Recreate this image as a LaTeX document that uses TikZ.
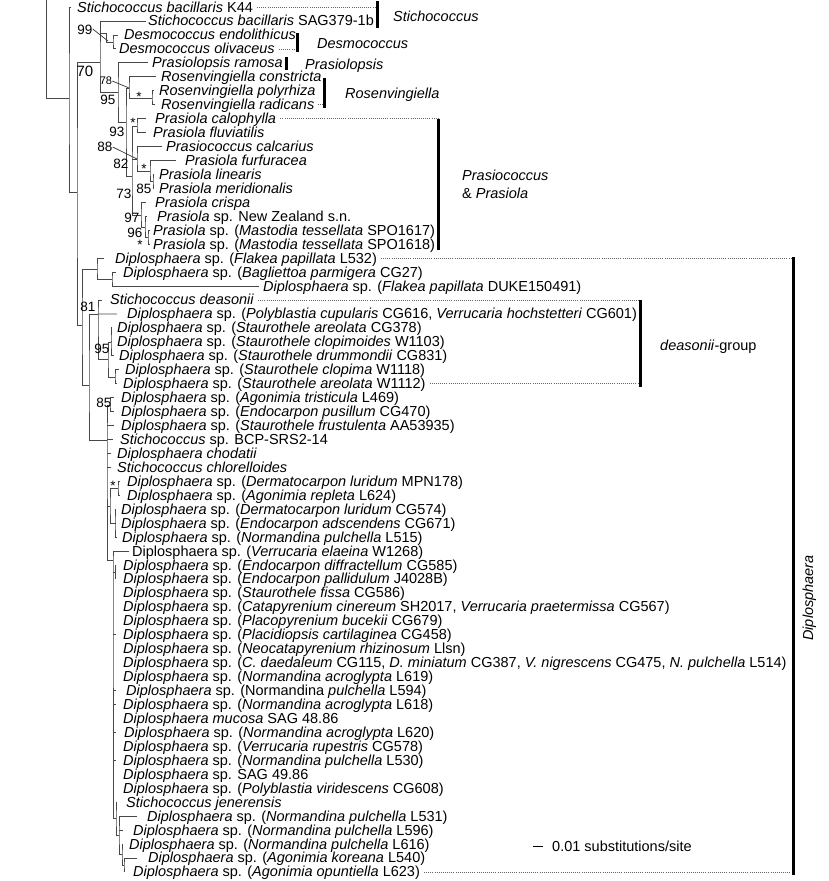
\documentclass[tikz,border=0pt]{standalone}
\usepackage{fontspec}
\setmainfont{Liberation Sans}
\newcommand{\dsp}{\textit{Diplosphaera} sp.}

\begin{document}
\begin{tikzpicture}[
  x=1pt,y=-1pt,
  taxon/.style={anchor=west,inner xsep=1pt,inner ysep=0pt,text height=10pt,text depth=0pt,font=\fontsize{14.5}{16}\selectfont},
  clade/.style={taxon,font=\fontsize{14.5}{16}\selectfont\itshape},
  support/.style={inner sep=0pt,font=\fontsize{13.5}{15}\selectfont},
  branch/.style={draw=black!72,line width=.8pt},
  leader/.style={draw=black!80,line width=.7pt},
  dotline/.style={draw=black!60,line width=.6pt,dash pattern=on .6pt off 1.5pt},
  cladebar/.style={draw=black,line width=3pt}
]
\useasboundingbox (0,0) rectangle (829,881);

% taxa, one row each, top to bottom: row/x/tip gap/text
\foreach \n/\x/\g/\t in {
  1/76/5/{\textit{Stichococcus bacillaris} K44},
  2/147/1/{\textit{Stichococcus bacillaris} SAG379-1b},
  3/123/5/{\textit{Desmococcus endolithicus}},
  4/118/2/{\textit{Desmococcus olivaceus}},
  5/151/3/{\textit{Prasiolopsis ramosa}},
  6/160/4/{\textit{Rosenvingiella constricta}},
  7/158/4/{\textit{Rosenvingiella polyrhiza}},
  8/160/5/{\textit{Rosenvingiella radicans}},
  9/154/8/{\textit{Prasiola calophylla}},
  10/152/6/{\textit{Prasiola fluviatilis}},
  11/165/3/{\textit{Prasiococcus calcarius}},
  12/184/8/{\textit{Prasiola furfuracea}},
  13/158/4/{\textit{Prasiola linearis}},
  14/158/4/{\textit{Prasiola meridionalis}},
  15/154/8/{\textit{Prasiola crispa}},
  16/156/9/{\textit{Prasiola} sp. New Zealand s.n.},
  17/152/2/{\textit{Prasiola} sp. (\textit{Mastodia tessellata} SPO1617)},
  18/152/2/{\textit{Prasiola} sp. (\textit{Mastodia tessellata} SPO1618)},
  19/114/10/{\dsp{} (\textit{Flakea papillata} L532)},
  20/122/6/{\dsp{} (\textit{Bagliettoa parmigera} CG27)},
  21/262/3/{\dsp{} (\textit{Flakea papillata} DUKE150491)},
  22/109/7/{\textit{Stichococcus deasonii}},
  23/126/9/{\dsp{} (\textit{Polyblastia cupularis} CG616, \textit{Verrucaria hochstetteri} CG601)},
  24/116/4/{\dsp{} (\textit{Staurothele areolata} CG378)},
  25/116/4/{\dsp{} (\textit{Staurothele clopimoides} W1103)},
  26/118/4/{\dsp{} (\textit{Staurothele drummondii} CG831)},
  27/124/5/{\dsp{} (\textit{Staurothele clopima} W1118)},
  28/122/5/{\dsp{} (\textit{Staurothele areolata} W1112)},
  29/120/6/{\dsp{} (\textit{Agonimia tristicula} L469)},
  30/120/6/{\dsp{} (\textit{Endocarpon pusillum} CG470)},
  31/120/6/{\dsp{} (\textit{Staurothele frustulenta} AA53935)},
  32/119/6/{\textit{Stichococcus} sp. BCP-SRS2-14},
  33/116/5/{\textit{Diplosphaera chodatii}},
  34/116/5/{\textit{Stichococcus chlorelloides}},
  35/126/6/{\dsp{} (\textit{Dermatocarpon luridum} MPN178)},
  36/126/6/{\dsp{} (\textit{Agonimia repleta} L624)},
  37/120/4/{\dsp{} (\textit{Dermatocarpon luridum} CG574)},
  38/120/4/{\dsp{} (\textit{Endocarpon adscendens} CG671)},
  39/121/4/{\dsp{} (\textit{Normandina pulchella} L515)},
  40/131/2/{Diplosphaera sp. (\textit{Verrucaria elaeina} W1268)},
  41/122/8/{\dsp{} (\textit{Endocarpon diffractellum} CG585)},
  42/122/8/{\dsp{} (\textit{Endocarpon pallidulum} J4028B)},
  43/122/8/{\dsp{} (\textit{Staurothele fissa} CG586)},
  44/122/8/{\dsp{} (\textit{Catapyrenium cinereum} SH2017, \textit{Verrucaria praetermissa} CG567)},
  45/122/8/{\dsp{} (\textit{Placopyrenium bucekii} CG679)},
  46/122/8/{\dsp{} (\textit{Placidiopsis cartilaginea} CG458)},
  47/122/8/{\dsp{} (\textit{Neocatapyrenium rhizinosum} Llsn)},
  48/122/8/{\dsp{} (\textit{C. daedaleum} CG115, \textit{D. miniatum} CG387, \textit{V. nigrescens} CG475, \textit{N. pulchella} L514)},
  49/122/8/{\dsp{} (\textit{Normandina acroglypta} L619)},
  50/125/8/{\dsp{} (Normandina \textit{pulchella} L594)},
  51/122/8/{\dsp{} (\textit{Normandina acroglypta} L618)},
  52/122/8/{\textit{Diplosphaera mucosa} SAG 48.86},
  53/123/8/{\dsp{} (\textit{Normandina acroglypta} L620)},
  54/122/8/{\dsp{} (\textit{Verrucaria rupestris} CG578)},
  55/122/8/{\dsp{} (\textit{Normandina pulchella} L530)},
  56/122/8/{\dsp{} SAG 49.86},
  57/122/8/{\dsp{} (\textit{Polyblastia viridescens} CG608)},
  58/125/8/{\textit{Stichococcus jenerensis}},
  59/146/9/{\dsp{} (\textit{Normandina pulchella} L531)},
  60/132/9/{\dsp{} (\textit{Normandina pulchella} L596)},
  61/128/5/{\dsp{} (\textit{Normandina pulchella} L616)},
  62/147/10/{\dsp{} (\textit{Agonimia koreana} L540)},
  63/132/8/{\dsp{} (\textit{Agonimia opuntiella} L623)}
}{
  \node[taxon] (t\n) at (\x,{7+13.95*(\n-1)}) {\t};
  \coordinate (e\n) at ([xshift=-\g pt]t\n.west);
}

% tree, upper part
\coordinate (cut) at (46,0);
\coordinate (n69) at (69,98);
\coordinate (n77) at (77,192);
\coordinate (n82) at (82,325);
\coordinate (n100) at (100,62);
\coordinate (n106) at (106,33);
\coordinate (n113d) at (113,42);
\coordinate (n118) at (118,92);
\coordinate (n125) at (126,122);
\coordinate (n128) at (129,88);
\coordinate (n152) at (152,98);
\coordinate (n133) at (132,176);
\coordinate (n137) at (137,126);
\coordinate (n137b) at (137,159);
\coordinate (n150) at (150,171);
\coordinate (n153) at (153,181);
\coordinate (n140) at (141,215);
\coordinate (n145) at (145,227);
\coordinate (n148) at (148,237);
\draw[branch] (cut) |- (n69);
\draw[branch] (e1) -| (n69) |- (n77);
\draw[branch] (n100) -| (n77) |- (n82);
\draw[branch] (e2) -| (n100) |- (n118);
\draw[branch] (n100 |- n106) -- (n106) |- (n113d);
\draw[branch] (e3) -| (n113d) |- (e4);
\draw[branch] (e5) -| (n118) |- (n125);
\draw[branch] (n128) -| (n125) |- (n133);
\draw[branch] (e6) -| (n128) |- (n152);
\draw[branch] (e7) -| (n152) |- (e8);
\draw[branch] (n137) -| (n133) |- (n140);
\draw[branch] (n133 |- n137b) -- (n137b);
\draw[branch] (e9) -| (n137) |- (e10);
\draw[branch] (e11) -| (n137b) |- (n150);
\draw[branch] (e12) -| (n150) |- (n153);
\draw[branch] (e13) -| (n153) |- (e14);
\draw[branch] (e15) -| (n140) |- (n145);
\draw[branch] (e16) -| (n145) |- (n148);
\draw[branch] (e17) -| (n148) |- (e18);

% tree, Diplosphaera part
\coordinate (n97) at (97,269);
\coordinate (n112) at (112,279);
\coordinate (n89) at (89,385);
\coordinate (n98) at (98,314);
\coordinate (n108) at (108,359);
\coordinate (n111) at (111,342);
\coordinate (n115d) at (115,377);
\coordinate (n107) at (107,440);
\coordinate (n110) at (110,405);
\coordinate (n110b) at (110,506);
\coordinate (n118s) at (118,488);
\coordinate (n115e) at (115,523);
\coordinate (n113) at (113,560);
\coordinate (n115f) at (115,572);
\coordinate (n116) at (116,818);
\coordinate (n119) at (119,835);
\coordinate (n122) at (122,854);
\coordinate (n124) at (124,865);
\draw[branch] (n97) -| (n82) |- (n89);
\draw[branch] (e19) -| (n97) |- (n112);
\draw[branch] (e20) -| (n112) |- (e21);
\draw[branch] (n98) -| (n89) |- (n107);
\draw[branch] (e22) -| (n98) |- (n108);
\draw[branch] (n98) -- (e23);
\draw[branch] (n111) -| (n108) |- (n115d);
\draw[branch] (e24) -| (n111) |- (e26);
\draw[branch] (n111 |- e25) -- (e25);
\draw[branch] (e27) -| (n115d) |- (e28);
\draw[branch] (n110) -| (n107) |- (n113);
\draw[branch] (e29) -| (n110) |- (e30);
\foreach \n in {31,...,34} \draw[branch] (n107 |- e\n) -- (e\n);
\draw[branch] (n107 |- n110b) -- (n110b);
\draw[branch] (n118s) -| (n110b) |- (n115e);
\draw[branch] (e35) -| (n118s) |- (e36);
\draw[branch] (e37) -| (n115e) |- (e39);
\draw[branch] (n115e |- e38) -- (e38);
\draw[branch] (e40) -| (n113) |- (n116);
\draw[branch] (n113 |- n115f) -- (n115f);
\draw[branch] (n115f |- e41) -- (n115f |- e42);
\foreach \n in {46,50,51,53,55} \draw[branch] (n113 |- e\n) -- +(3,0);
\draw[branch] (e58) -| (n116) |- (n119);
\draw[branch] (e59) -| (n119) |- (n122);
\draw[branch] (n119 |- e60) -- (e60);
\draw[branch] (e61) -| (n122) |- (n124);
\draw[branch] (e62) -| (n124) |- (e63);

% support values
\node[support] (s99) at (85,30) {99};
\node[support,font=\fontsize{15}{16}\selectfont] (s70) at (85,71) {70};
\node[support,font=\fontsize{11}{12}\selectfont] (s78) at (106,81) {78};
\node[support] (s95a) at (108,100) {95};
\node[support] (st1) at (139,97) {*};
\node[support] (st2) at (133,123) {*};
\node[support] (s93) at (117,132) {93};
\node[support] (s88) at (105,147) {88};
\node[support] (s82) at (121,164) {82};
\node[support] (st3) at (144,169) {*};
\node[support] (s73) at (124,194) {73};
\node[support] (s85a) at (144,189) {85};
\node[support] (s97) at (132,218) {97};
\node[support] (s96) at (135,233) {96};
\node[support] (st4) at (140,245) {*};
\node[support] (s81) at (88,307) {81};
\node[support] (s95b) at (102,349) {95};
\node[support] (s85b) at (104,403) {85};
\node[support] (st5) at (113,486) {*};
\coordinate (p99) at (108,41);
\draw[leader] ([yshift=1pt]s99.east) -- (p99);
\draw[leader] (s78.east) -- (n128);
\draw[leader] (s88.east) -- (n137b);

% clade brackets
\coordinate (stT) at (377,1);   \coordinate (stB) at (377,28);
\coordinate (deT) at (297,33);  \coordinate (deB) at (297,52);
\coordinate (prT) at (286,57);  \coordinate (prB) at (286,70);
\coordinate (roT) at (324,78);  \coordinate (roB) at (324,108);
\coordinate (paT) at (438,119); \coordinate (paB) at (438,250);
\coordinate (diT) at (793,257); \coordinate (diB) at (793,875);
\coordinate (dgT) at (640,300); \coordinate (dgB) at (640,387);
\draw[dotline] ([xshift=3pt]t1.east) -- (t1.east -| stT);
\draw[dotline] ([xshift=3pt]t4.east) -- (t4.east -| deT);
\draw[dotline] ([xshift=2pt]t8.east) -- (t8.east -| roT);
\draw[dotline] ([xshift=3pt]t9.east) -- (t9.east -| paT);
\draw[dotline] ([xshift=3pt]t19.east) -- (t19.east -| diT);
\draw[dotline] ([xshift=3pt]t63.east) -- (t63.east -| diT);
\draw[dotline] ([xshift=3pt]t22.east) -- (t22.east -| dgT);
\draw[dotline] ([xshift=3pt]t28.east) -- (t28.east -| dgT);
\foreach \c in {st,de,pr,ro,pa,di,dg} \draw[cladebar] (\c T) -- (\c B);
\node[clade] (cSt) at (392,16) {Stichococcus};
\node[clade] (cDe) at (316,43) {Desmococcus};
\node[clade] (cPr) at (304,64) {Prasiolopsis};
\node[clade] (cRo) at (344,93) {Rosenvingiella};
\node[clade] (cPa1) at (461,175) {Prasiococcus};
\node[taxon] (cPa2) at (461,193) {\& \textit{Prasiola}};
\node[taxon] (cDg) at (659,345) {\textit{deasonii}-group};
\node[clade,anchor=center,rotate=90] (cDi) at (808,598) {Diplosphaera};

% scale bar
\coordinate (sbL) at (533,846);
\node[taxon] (sbT) at (551,846) {0.01 substitutions/site};
\draw[branch,draw=black] (sbL) -- ([xshift=-8pt]sbT.west);
\end{tikzpicture}
\end{document}
